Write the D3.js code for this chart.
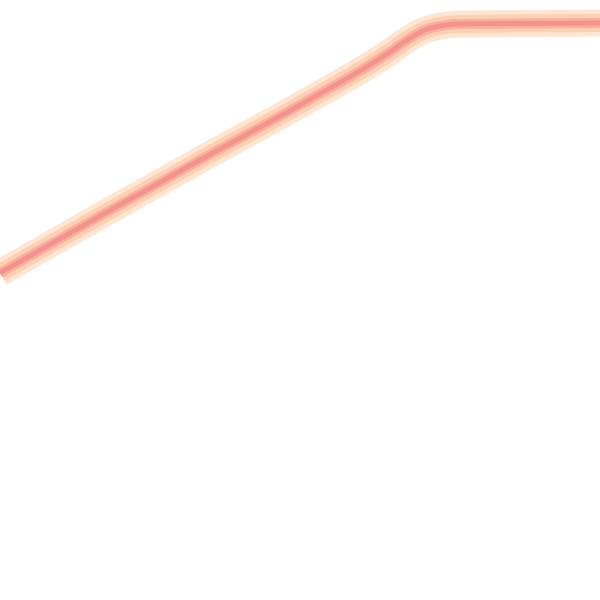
<!DOCTYPE html>
<html><head><meta charset="utf-8">
<script src="https://cdn.jsdelivr.net/npm/d3@7"></script>
<style>html,body{margin:0;padding:0;background:#fff;}svg{display:block;}</style>
</head><body>
<script>
const xs = [0, 100, 200, 300, 390, 410, 425, 440, 460, 600];
const values = [327, 384, 440, 495, 548, 562, 570, 574, 576, 577];
const W = 600, H = 600;
const x = d3.scaleLinear().domain([0, 600]).range([0, W]);
const y = d3.scaleLinear().domain([0, 600]).range([H, 0]);
const data = xs.map((d, i) => ({x: d, v: values[i]}));
const svg = d3.select("body").append("svg").attr("width", W).attr("height", H);
const line = d3.line().x(d => x(d.x)).y(d => y(d.v)).curve(d3.curveMonotoneX);
const layers = [
  {w: 27, c: "#fee6d2"},
  {w: 18, c: "#fdcfb4"},
  {w: 10, c: "#f9b09f"},
  {w: 5, c: "#f4938d"}
];
layers.forEach(l => {
  svg.append("path").datum(data).attr("d", line)
    .attr("fill", "none").attr("stroke", l.c).attr("stroke-width", l.w)
    .attr("stroke-linejoin", "round").attr("stroke-linecap", "butt");
});
</script>
</body></html>
